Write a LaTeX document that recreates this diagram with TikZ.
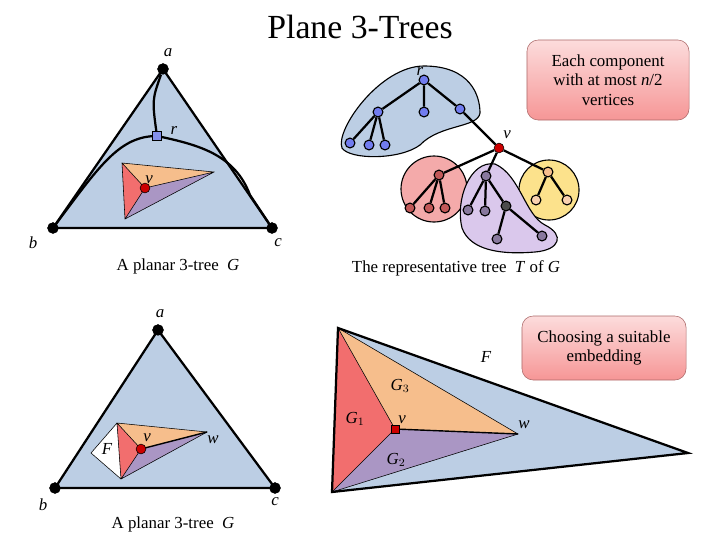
\documentclass[tikz,border=0pt]{standalone}
\usepackage{tikz}
\usepackage{fontspec}
\setmainfont{Liberation Serif}
\usetikzlibrary{positioning}
\newcommand{\lbl}[1]{\textit{#1}}
\definecolor{faceblue}{RGB}{188,206,228}
\definecolor{facered}{RGB}{242,110,110}
\definecolor{faceorange}{RGB}{246,190,140}
\definecolor{facepurple}{RGB}{170,150,196}
\definecolor{blobpink}{RGB}{244,170,170}
\definecolor{blobpurple}{RGB}{218,200,236}
\definecolor{blobyellow}{RGB}{252,226,140}
\definecolor{boxtop}{RGB}{252,220,220}
\definecolor{boxbot}{RGB}{246,150,150}
\tikzset{
  outer/.style={circle, fill=black, inner sep=0pt, minimum size=8pt},
  tv/.style={circle, draw=black, line width=0.8pt, inner sep=0pt, minimum size=7pt},
  redv/.style={circle, draw=black, fill=red!80!black, inner sep=0pt, minimum size=7pt},
  edge/.style={line width=1.6pt},
  note/.style={rounded corners=8pt, draw=boxbot!70!black, top color=boxtop, bottom color=boxbot, align=center, font=\large},
  caption/.style={font=\large},
  tag/.style={font=\large},
}
\begin{document}
\begin{tikzpicture}[x=0.025cm, y=-0.025cm]
	\useasboundingbox (0,0) rectangle (720,540);
	\node at (360,27) {\fontsize{24}{28}\selectfont Plane 3-Trees};

	% top left planar 3-tree
	\node[outer] (a) at (163,69) {};
	\node[outer] (b) at (53,228) {};
	\node[outer] (c) at (272,228) {};
	\fill[faceblue] (a.center) -- (b.center) -- (c.center) -- cycle;
	\draw[edge] (a.center) -- (b.center) -- (c.center) -- cycle;
	\node[outer] at (a) {};
	\node[outer] at (b) {};
	\node[outer] at (c) {};
	\draw[edge] (a) .. controls (152,100) .. (157,136);
	\draw[edge] (b) .. controls (100,165) and (120,136) .. (157,136);
	\draw[edge] (157,136) .. controls (200,145) and (235,155) .. (250,195) -- (c);
	\node[tv, fill=faceblue!70!blue, minimum size=6pt, rectangle] (r) at (157,136) {};
	\coordinate (p1) at (122,163);
	\coordinate (p2) at (125,219);
	\coordinate (p3) at (214,172);
	\coordinate (pv) at (145,188);
	\fill[facered] (p1) -- (pv) -- (p2) -- cycle;
	\fill[faceorange] (p1) -- (p3) -- (pv) -- cycle;
	\fill[facepurple] (pv) -- (p3) -- (p2) -- cycle;
	\draw[thin] (p1) -- (p2) -- (p3) -- cycle (p1) -- (pv) (p2) -- (pv) (p3) -- (pv);
	\node[redv] (v) at (pv) {};
	\node[tag] at (168,53) {\lbl{a}};
	\node[tag] at (33,243) {\lbl{b}};
	\node[tag] at (278,243) {\lbl{c}};
	\node[tag] at (174,131) {\lbl{r}};
	\node[tag] at (149,180) {\lbl{v}};
	\node[caption] at (178,266) {A planar 3-tree \ \lbl{G}};

	% representative tree
	\fill[faceblue, draw=black, line width=0.8pt] (424,66) .. controls (470,66) and (480,95) .. (480,113) .. controls (478,128) and (440,124) .. (420,145) .. controls (400,160) and (350,160) .. (342,148) .. controls (335,130) and (380,66) .. (424,66) -- cycle;
	\draw[fill=blobpink, line width=0.8pt] (434,189) circle (33);
	\draw[fill=blobyellow, line width=0.8pt] (549,190) circle (30);
	\draw[fill=blobpurple, line width=0.8pt] (495,164) .. controls (520,175) and (525,215) .. (545,225) .. controls (565,235) and (560,250) .. (535,252) .. controls (500,255) and (470,250) .. (462,228) .. controls (455,200) and (470,160) .. (495,164) -- cycle;
	\node[tv, fill=faceblue!60!blue] (tr) at (424,80) {};
	\node[tv, fill=faceblue!60!blue] (t1) at (378,112) {};
	\node[tv, fill=faceblue!60!blue] (t2) at (424,112) {};
	\node[tv, fill=faceblue!60!blue] (t3) at (460,109) {};
	\node[redv] (tv) at (499,148) {};
	\node[tv, fill=facered!80!black] (pk) at (439,175) {};
	\node[tv, fill=facepurple!80!black] (pu) at (486,176) {};
	\node[tv, fill=gray!60!black] (gr) at (506,206) {};
	\node[tv, fill=faceorange] (ye) at (548,172) {};
	\foreach \x/\y [count=\i] in {350/143, 369/145, 385/145}
		\node[tv, fill=faceblue!60!blue] (bl\i) at (\x,\y) {};
	\foreach \x/\y [count=\i] in {410/208, 429/208, 445/208}
		\node[tv, fill=facered!80!black] (pl\i) at (\x,\y) {};
	\foreach \x/\y [count=\i] in {468/210, 485/211, 497/239, 542/236}
		\node[tv, fill=facepurple!80!black] (ul\i) at (\x,\y) {};
	\foreach \x/\y [count=\i] in {536/200, 567/200}
		\node[tv, fill=faceorange!70] (yl\i) at (\x,\y) {};
	\draw[edge] (tr) -- (t1) (tr) -- (t2) (tr) -- (t3) (t3) -- (tv);
	\draw[edge] (t1) -- (bl1) (t1) -- (bl2) (t1) -- (bl3);
	\draw[edge] (tv) -- (pk) (tv) -- (pu) (tv) -- (ye);
	\draw[edge] (pk) -- (pl1) (pk) -- (pl2) (pk) -- (pl3);
	\draw[edge] (pu) -- (ul1) (pu) -- (ul2) (pu) -- (gr) (gr) -- (ul3) (gr) -- (ul4);
	\draw[edge] (ye) -- (yl1) (ye) -- (yl2);
	\node[tag] at (420,72) {\lbl{r}};
	\node[tag] at (507,135) {\lbl{v}};
	\node[note, minimum width=4.05cm, minimum height=2cm] (n1) at (608,80) {Each component\\with at most \lbl{n}/2\\vertices};
	\node[caption] at (456,268) {The representative tree \ \lbl{T} of \lbl{G}};

	% bottom left planar 3-tree
	\node[outer] (a2) at (158,330) {};
	\node[outer] (b2) at (55,488) {};
	\node[outer] (c2) at (275,488) {};
	\fill[faceblue] (a2.center) -- (b2.center) -- (c2.center) -- cycle;
	\draw[edge] (a2.center) -- (b2.center) -- (c2.center) -- cycle;
	\node[outer] at (a2) {};
	\node[outer] at (b2) {};
	\node[outer] at (c2) {};
	\coordinate (q1) at (117,423);
	\coordinate (q2) at (121,479);
	\coordinate (q3) at (207,432);
	\coordinate (qv) at (141,449);
	\coordinate (qf) at (91,453);
	\fill[white] (q1) -- (qf) -- (q2) -- cycle;
	\fill[facered] (q1) -- (qv) -- (q2) -- cycle;
	\fill[faceorange] (q1) -- (q3) -- (qv) -- cycle;
	\fill[facepurple] (qv) -- (q3) -- (q2) -- cycle;
	\draw[thin] (q1) -- (qf) -- (q2) (q1) -- (q2) -- (q3) -- cycle (q1) -- (qv) (q2) -- (qv);
	\draw[line width=1pt] (q3) -- (qv);
	\node[redv] (v2) at (qv) {};
	\node[tag] at (160,314) {\lbl{a}};
	\node[tag] at (43,505) {\lbl{b}};
	\node[tag] at (275,502) {\lbl{c}};
	\node[tag] at (147,438) {\lbl{v}};
	\node[tag] at (107,449) {\lbl{F}};
	\node[tag] at (213,440) {\lbl{w}};
	\node[caption] at (173,524) {A planar 3-tree \ \lbl{G}};

	% bottom right embedding
	\coordinate (e1) at (338,328);
	\coordinate (e2) at (332,492);
	\coordinate (e3) at (688,453);
	\coordinate (ew) at (518,434);
	\coordinate (ev) at (395,429);
	\fill[faceblue] (e1) -- (e2) -- (e3) -- cycle;
	\fill[facered] (e1) -- (ev) -- (e2) -- cycle;
	\fill[faceorange] (e1) -- (ew) -- (ev) -- cycle;
	\fill[facepurple] (ev) -- (ew) -- (e2) -- cycle;
	\draw[edge] (e1) -- (e2) -- (e3) -- cycle;
	\draw[thin] (e1) -- (ew) -- (e2) (e1) -- (ev) -- (e2);
	\draw[line width=1pt] (ev) -- (ew);
	\node[redv, rectangle, minimum size=6pt] (v3) at (ev) {};
	\node[tag] at (486,357) {\lbl{F}};
	\node[tag] at (400,386) {\lbl{G}$_3$};
	\node[tag] at (355,419) {\lbl{G}$_1$};
	\node[tag] at (402,420) {\lbl{v}};
	\node[tag] at (524,425) {\lbl{w}};
	\node[tag] at (396,460) {\lbl{G}$_2$};
	\node[note, minimum width=4.1cm, minimum height=1.6cm] (n2) at (604,348) {Choosing a suitable\\embedding};
\end{tikzpicture}
\end{document}
